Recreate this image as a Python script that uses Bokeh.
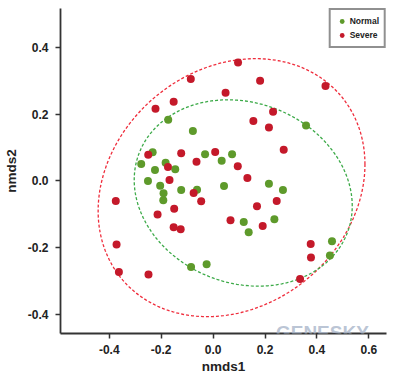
import numpy as np
from bokeh.plotting import figure
from bokeh.models import Range1d, FixedTicker, NumeralTickFormatter, Legend, LegendItem, Label
from bokeh.embed import file_html
from bokeh.resources import INLINE

# Severe samples (nmds1, nmds2)
severe_x = [0.096, -0.086, 0.181, 0.433, 0.048, -0.152, -0.222, 0.231, 0.155, 0.215,
            0.272, -0.250, -0.123, 0.008, -0.064, -0.174, 0.095, 0.132, -0.168, -0.075,
            -0.046, 0.245, -0.375, -0.150, 0.169, -0.214, 0.067, 0.191, -0.152, -0.125,
            -0.372, 0.376, 0.377, -0.363, -0.249, 0.335]
severe_y = [0.356, 0.306, 0.301, 0.285, 0.265, 0.238, 0.217, 0.208, 0.180, 0.161,
            0.094, 0.079, 0.083, 0.087, 0.058, 0.042, 0.044, 0.009, 0.003, -0.036,
            -0.061, -0.060, -0.060, -0.083, -0.076, -0.101, -0.118, -0.135, -0.139, -0.145,
            -0.191, -0.189, -0.230, -0.273, -0.281, -0.294]

# Normal samples (nmds1, nmds2)
normal_x = [0.358, -0.173, -0.078, -0.233, -0.277, -0.031, 0.073, 0.033, -0.183, -0.224,
            -0.146, -0.251, -0.204, 0.042, 0.215, -0.123, -0.062, 0.269, -0.191, -0.192,
            0.118, 0.236, 0.137, 0.458, 0.450, -0.085, -0.025]
normal_y = [0.167, 0.184, 0.150, 0.086, 0.051, 0.080, 0.080, 0.061, 0.055, 0.033,
            0.035, 0.000, -0.014, -0.015, -0.008, -0.027, -0.026, -0.027, -0.037, -0.058,
            -0.123, -0.115, -0.154, -0.181, -0.224, -0.258, -0.250]

# Confidence ellipses: center x, center y, a11, a21, a22 (x = cx + a11 cos t; y = cy + a21 cos t + a22 sin t)
severe_ellipse = [0.071, -0.020, 0.514, 0.070, 0.381]
normal_ellipse = [0.116, -0.036, 0.420, -0.039, 0.277]

x_ticks = [-0.4, -0.2, 0.0, 0.2, 0.4, 0.6]
y_ticks = [-0.4, -0.2, 0.0, 0.2, 0.4]

RED = "#c4192a"
GREEN = "#5e9a2b"
RED_LINE = "#ef2d3c"
GREEN_LINE = "#3caa48"
WM = "#a9b6ca"


def ellipse_pts(par, n=240):
    t = np.linspace(0, 2 * np.pi, n)
    cx, cy, a11, a21, a22 = par
    return cx + a11 * np.cos(t), cy + a21 * np.cos(t) + a22 * np.sin(t)


p = figure(width=400, height=377, output_backend="svg", toolbar_location=None,
           x_range=Range1d(-0.588, 0.668), y_range=Range1d(-0.458, 0.518),
           min_border_left=59, min_border_right=14, min_border_top=8, min_border_bottom=44)
p.outline_line_color = None
p.xgrid.visible = False
p.ygrid.visible = False
p.background_fill_color = "white"
p.border_fill_color = "white"

ex, ey = ellipse_pts(severe_ellipse)
p.line(ex, ey, line_color=RED_LINE, line_width=1.3, line_dash="3 2")
ex, ey = ellipse_pts(normal_ellipse)
p.line(ex, ey, line_color=GREEN_LINE, line_width=1.3, line_dash="3 2")

rn = p.scatter(normal_x, normal_y, size=8, fill_color=GREEN, line_color=None)
rs = p.scatter(severe_x, severe_y, size=8, fill_color=RED, line_color=None)

for ax, ticks in ((p.xaxis[0], x_ticks), (p.yaxis[0], y_ticks)):
    ax.ticker = FixedTicker(ticks=ticks)
    ax.formatter = NumeralTickFormatter(format="0.0")
    ax.minor_tick_line_color = None
    ax.major_tick_in = 0
    ax.major_tick_out = 5
    ax.major_tick_line_width = 1.5
    ax.major_tick_line_color = "#333333"
    ax.axis_line_width = 1.8
    ax.axis_line_color = "#333333"
    ax.major_label_text_font = "Liberation Sans"
    ax.major_label_text_font_style = "bold"
    ax.major_label_text_font_size = "12px"
    ax.major_label_text_color = "#222222"
    ax.axis_label_text_font = "Liberation Sans"
    ax.axis_label_text_font_style = "bold"
    ax.axis_label_text_font_size = "13.5px"
    ax.axis_label_text_color = "#222222"

p.xaxis.axis_label = "nmds1"
p.yaxis.axis_label = "nmds2"
p.yaxis.major_label_orientation = "horizontal"
p.xaxis.major_label_standoff = 6
p.yaxis.major_label_standoff = 7
p.xaxis.axis_label_standoff = 2
p.yaxis.axis_label_standoff = 6

legend = Legend(items=[LegendItem(label="Normal", renderers=[rn]),
                       LegendItem(label="Severe", renderers=[rs])],
                location="top_right", margin=0, padding=5, spacing=2,
                glyph_width=12, glyph_height=12, label_standoff=2, label_height=12,
                label_text_font="Liberation Sans", label_text_font_style="bold",
                label_text_font_size="8.5px", label_text_color="#222222",
                border_line_color="#222222", border_line_width=2,
                background_fill_color="white", background_fill_alpha=1)
p.add_layout(legend)

# watermark (kept inside the plotting area)
p.add_layout(Label(x=0.242, y=-0.456, text="GENESKY", text_font="Liberation Sans",
                   text_font_style="bold", text_font_size="19px", text_color=WM,
                   text_alpha=0.8, text_baseline="alphabetic"))

open("out.html", "w").write(file_html(p, INLINE))
